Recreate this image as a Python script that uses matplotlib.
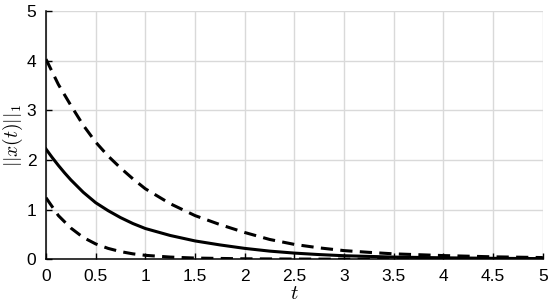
import matplotlib
matplotlib.use("Agg")
import matplotlib.pyplot as plt

plt.rcParams['font.family'] = ['Liberation Sans', 'DejaVu Sans']
plt.rcParams['mathtext.fontset'] = 'cm'

t_upper = [0, 0.125, 0.25, 0.375, 0.5, 0.625, 0.75, 0.875, 1.0, 1.25, 1.5, 1.75, 2.0,
           2.25, 2.5, 2.75, 3.0, 3.25, 3.5, 4.0, 4.5, 5.0]
y_upper = [4.03, 3.52, 3.10, 2.70, 2.36, 2.08, 1.84, 1.62, 1.42, 1.12, 0.88, 0.70, 0.54,
           0.40, 0.30, 0.23, 0.175, 0.14, 0.11, 0.075, 0.05, 0.035]

t_mid = [0, 0.0625, 0.125, 0.1875, 0.25, 0.375, 0.5, 0.625, 0.75, 0.875, 1.0, 1.25, 1.5, 1.75, 2.0,
         2.25, 2.5, 2.75, 3.0, 3.5, 4.0, 4.5, 5.0]
y_mid = [2.22, 2.05, 1.89, 1.74, 1.60, 1.35, 1.14, 0.98, 0.84, 0.72, 0.62, 0.48, 0.37, 0.29, 0.22,
         0.165, 0.125, 0.095, 0.072, 0.045, 0.03, 0.02, 0.014]

t_lower = [0, 0.125, 0.25, 0.375, 0.5, 0.625, 0.75, 0.875, 1.0, 1.25, 1.5, 2.0,
           2.5, 3.0, 4.0, 5.0]
y_lower = [1.24, 0.88, 0.63, 0.44, 0.31, 0.22, 0.155, 0.11, 0.08, 0.045, 0.025, 0.01,
           0.005, 0.003, 0.001, 0.0]

x_ticks = [0, 0.5, 1, 1.5, 2, 2.5, 3, 3.5, 4, 4.5, 5]
x_tick_labels = ['0', '0.5', '1', '1.5', '2', '2.5', '3', '3.5', '4', '4.5', '5']
y_ticks = [0, 1, 2, 3, 4, 5]

fig = plt.figure(figsize=(5.5, 3.06), dpi=100)
ax = fig.add_axes([0.0836, 0.1526, 0.9034, 0.8114])

dash = (0, (4.0, 2.4))
ax.plot(t_upper, y_upper, color='black', lw=2.2, linestyle=dash)
ax.plot(t_mid, y_mid, color='black', lw=2.2)
ax.plot(t_lower, y_lower, color='black', lw=2.2, linestyle=dash)

ax.set_xlim(0, 5)
ax.set_ylim(0, 5)
ax.set_xticks(x_ticks)
ax.set_xticklabels(x_tick_labels)
ax.set_yticks(y_ticks)
ax.grid(True, color='#d9d9d9', lw=1.0)
ax.set_axisbelow(True)
for s in ['top', 'right']:
    ax.spines[s].set_visible(False)
for s in ['left', 'bottom']:
    ax.spines[s].set_linewidth(1.1)
ax.tick_params(direction='in', length=4, width=1.0, labelsize=12.5, pad=7)
ax.set_xlabel(r'$t$', fontsize=15, labelpad=0)
ax.set_ylabel(r'$||x(t)||_1$', fontsize=14)
ax.yaxis.set_label_coords(-0.042, 0.5)

fig.savefig('out.png', dpi=100)
